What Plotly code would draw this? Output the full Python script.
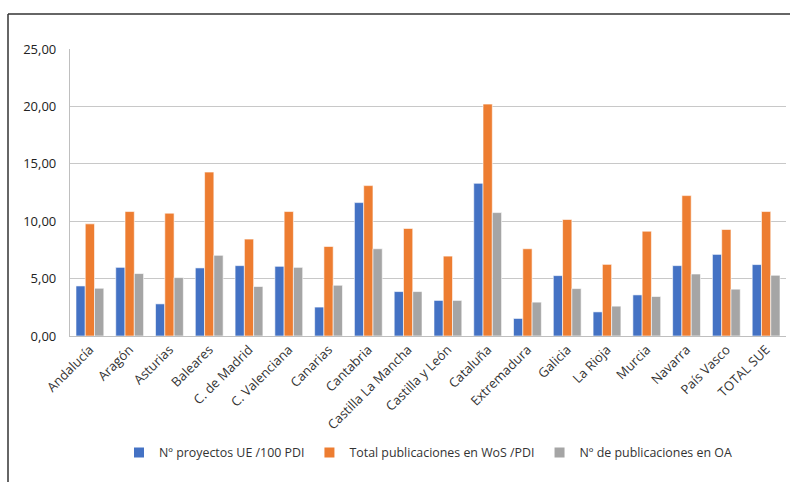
import plotly.graph_objects as go

categories = ["Andalucía", "Aragón", "Asturias", "Baleares", "C. de Madrid", "C. Valenciana",
              "Canarias", "Cantabria", "Castilla La Mancha", "Castilla y León", "Cataluña",
              "Extremadura", "Galicia", "La Rioja", "Murcia", "Navarra", "País Vasco", "TOTAL SUE"]
proyectos_ue = [4.36, 5.98, 2.80, 5.93, 6.13, 6.07, 2.52, 11.62, 3.87, 3.10, 13.30,
                1.53, 5.26, 2.10, 3.58, 6.13, 7.11, 6.22]
publicaciones_wos = [9.77, 10.84, 10.70, 14.28, 8.44, 10.84, 7.80, 13.10, 9.37, 6.96, 20.20,
                     7.60, 10.15, 6.24, 9.13, 12.23, 9.28, 10.84]
publicaciones_oa = [4.16, 5.44, 5.09, 7.03, 4.31, 5.98, 4.42, 7.60, 3.87, 3.10, 10.75,
                    2.95, 4.13, 2.60, 3.44, 5.40, 4.08, 5.29]
series_names = ["Nº proyectos UE /100 PDI", "Total publicaciones en WoS /PDI", "Nº de publicaciones en OA"]
colors = ["#4472C4", "#ED7D31", "#A5A5A5"]

fig = go.Figure()
for name, vals, col in zip(series_names, [proyectos_ue, publicaciones_wos, publicaciones_oa], colors):
    fig.add_trace(go.Bar(x=categories, y=vals, name=name,
                         marker=dict(color=col, line=dict(color="white", width=0.6))))

W, H = 790, 482
l, r, t, b = 70, 4, 49, 146
pw, ph = W - l - r, H - t - b

def px(x):
    return (x - l) / pw

def py(y):
    return (H - b - y) / ph

fig.update_layout(
    width=W, height=H,
    margin=dict(l=l, r=r, t=t, b=b),
    paper_bgcolor="white", plot_bgcolor="white",
    barmode="group", bargap=0.3, bargroupgap=0.0,
    font=dict(family="Open Sans", size=12, color="#333333"),
    separators=",.",
    showlegend=True,
    legend=dict(orientation="h", x=0.5, xanchor="center", y=py(453), yanchor="middle",
                font=dict(size=12.4, color="#333333"), itemsizing="constant", itemwidth=30),
    xaxis=dict(tickangle=-45, showline=True, linecolor="#bfbfbf", linewidth=1,
               ticks="", tickfont=dict(size=13, color="#333333"), showgrid=False),
    yaxis=dict(range=[0, 25], dtick=5, tickformat=".2f", showline=True, linecolor="#bfbfbf",
               linewidth=1, gridcolor="#c8c8c8", gridwidth=1, zeroline=False,
               tickfont=dict(size=13, color="#222222"), ticks="",
               ticksuffix="\u00a0\u00a0\u00a0"),
    shapes=[
        dict(type="line", xref="paper", yref="paper", x0=px(8), x1=px(790), y0=py(14), y1=py(14),
             line=dict(color="#333333", width=1.5)),
        dict(type="line", xref="paper", yref="paper", x0=px(8), x1=px(8), y0=py(14), y1=py(482),
             line=dict(color="#333333", width=1.5)),
    ],
)

fig.write_html("out.html")
